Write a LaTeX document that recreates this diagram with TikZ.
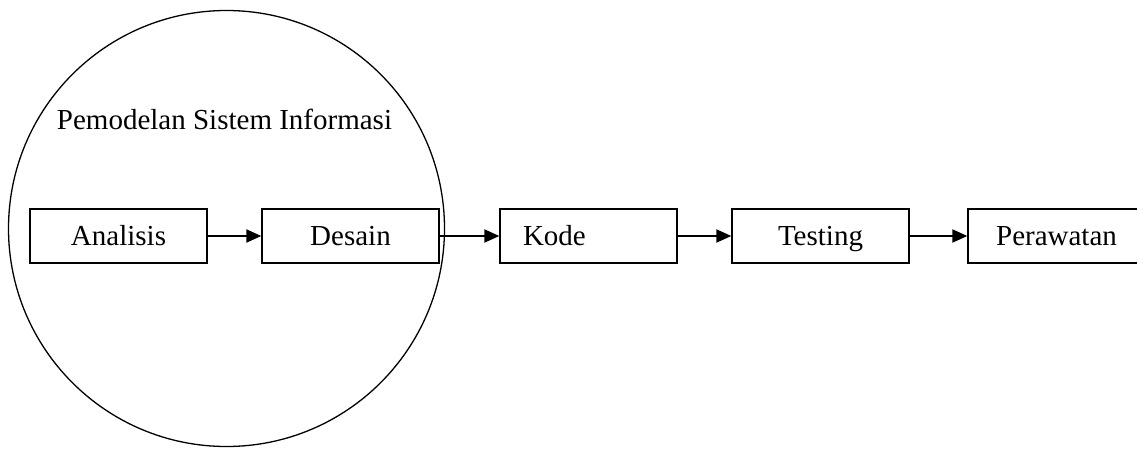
\documentclass[tikz,border=0pt]{standalone}
\usepackage{fontspec}
\setmainfont{Liberation Serif}
\usetikzlibrary{arrows.meta}
\begin{document}
\begin{tikzpicture}[x=1pt,y=-1pt,
  stagebox/.style={draw, line width=1.3pt, rectangle, minimum width=177pt, minimum height=54pt,
    inner sep=0pt, text height=21.3pt, text depth=3.3pt},
  flow/.style={line width=2pt, -{Triangle[length=15pt,width=13pt]}},
  every node/.style={font=\fontsize{29}{34}\selectfont}]
\useasboundingbox (0,0) rectangle (1137,448);
\clip (0,0) rectangle (1137,448);
\draw[line width=1.3pt] (226.5,228.5) circle (218);
\node[anchor=base] (title) at (224.5,129) {Pemodelan Sistem Informasi};
\node[stagebox] (an) at (118.5,236) {Analisis};
\node[stagebox] (de) at (350.5,236) {Desain};
\node[stagebox, text width=131pt, align=left, inner xsep=23pt] (ko) at (588.5,236) {Kode};
\node[stagebox] (te) at (820.5,236) {Testing};
\node[stagebox] (pe) at (1056.5,236) {Perawatan};
\draw[flow] (an.east) -- (de.west);
\draw[flow] (de.east) -- (ko.west);
\draw[flow] (ko.east) -- (te.west);
\draw[flow] (te.east) -- (pe.west);
\end{tikzpicture}
\end{document}
